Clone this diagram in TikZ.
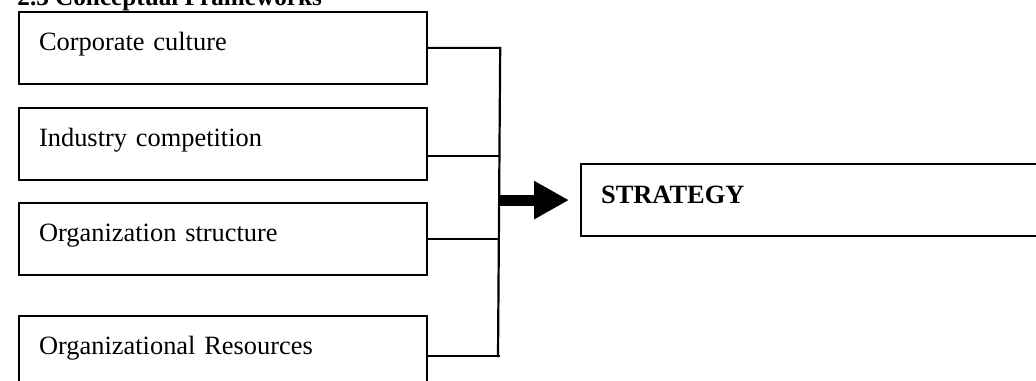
\documentclass[tikz,border=0pt,12pt]{standalone}
\usepackage{fontspec}
\setmainfont{Liberation Serif}
\usetikzlibrary{arrows.meta, positioning}

\begin{document}
\begin{tikzpicture}[
  x=0.5pt, y=-0.5pt,
  factor/.style={draw, rectangle, line width=1.1pt, anchor=north west,
                 minimum width=204pt, minimum height=35.75pt,
                 text width=184pt, align=left, inner xsep=10pt,
                 text height=10.5pt, text depth=7.5pt,
                 font=\fontsize{13.2}{16}\selectfont},
  outcome/.style={factor, minimum width=260pt, text width=240pt,
                  minimum height=36pt, font=\fontsize{13.2}{16}\selectfont\bfseries},
  link/.style={-, line width=1.1pt},
  bigarr/.style={line width=5.5pt, -{Triangle[length=17.5pt, width=18pt]}},
]
\useasboundingbox (0,0) rectangle (1036,380);
\node[anchor=base west, inner sep=0pt, font=\fontsize{12.6}{15}\selectfont\bfseries] (ttl) at (17,5) {2.3 Conceptual Frameworks};
\node[factor] (cc) at (18,11) {Corporate culture};
\node[factor, below=11.15pt of cc] (ic) {Industry competition};
\node[factor, below=10.65pt of ic] (os) {Organization structure};
\node[factor, below=19.65pt of os] (orr) {Organizational Resources};
\node[outcome] (st) at (580,163) {STRATEGY};
%% joining bar
\coordinate[right=36pt of cc.east] (bt);
\coordinate (bb) at (498,357);
\coordinate[below=6pt of ic.east] (icx);
\coordinate[below=2pt of orr.east] (orx);
\draw[link] (cc.east) -- (bt) -- (bb);
\draw[link] (icx) -- (icx -| bt);
\draw[link] (os.east) -- (os.east -| bt);
\draw[link] (orx) -- (orx -| bt);
\draw[bigarr] (bt |- st.west) -- ([xshift=-5.5pt]st.west);
\end{tikzpicture}
\end{document}
